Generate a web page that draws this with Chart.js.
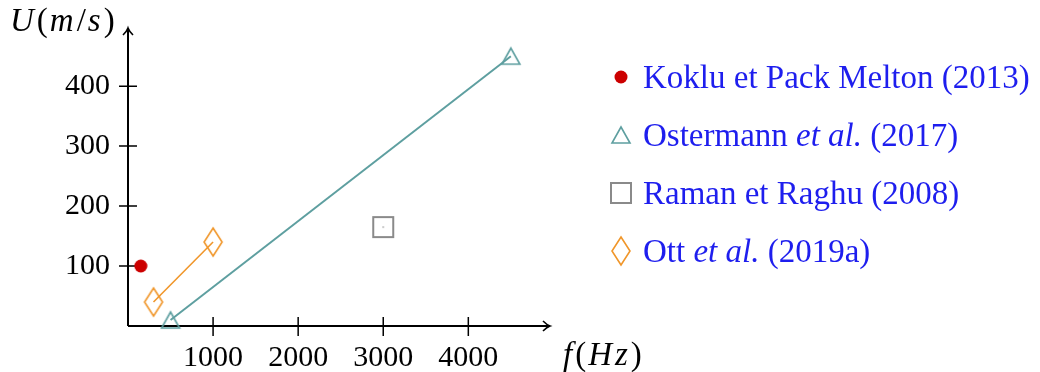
<!DOCTYPE html>
<html>
<head>
<meta charset="utf-8">
<script src="https://cdn.jsdelivr.net/npm/chart.js@4"></script>
<style>
    body { margin: 0; background: #fff; }
    #wrap { position: relative; width: 1040px; height: 372px; }
    #chart { position: absolute; left: 0; top: 0; }
    .axisLabel { position: absolute; font-family: "Liberation Serif", serif; font-size: 33px; color: #000; white-space: nowrap; line-height: 1; letter-spacing: 2px; }
    .axisLabel i { letter-spacing: 3px; }
    #legend { position: absolute; left: 604px; top: 48px; font-family: "Liberation Serif", serif; font-size: 33px; color: #1e1eee; }
    .row { height: 58px; display: flex; align-items: center; white-space: nowrap; }
</style>
</head>
<body>
<div id="wrap">
    <canvas id="chart" width="1040" height="372"></canvas>
    <div class="axisLabel" style="left:10px;top:4px;"><i>U</i>(<i>m</i>/<i>s</i>)</div>
    <div class="axisLabel" style="left:563px;top:338px;"><i>f</i>(<i>Hz</i>)</div>
    <div id="legend"></div>
</div>
<script>
// data
const kokluF = [150];
const kokluU = [100];
const ostermannF = [500, 4500];
const ostermannU = [10, 450];
const ramanF = [3000];
const ramanU = [165];
const ottF = [300, 1000];
const ottU = [40, 140];

const xTicks = [1000, 2000, 3000, 4000];
const yTicks = [100, 200, 300, 400];

const legendLabels = [
    [["Koklu et Pack Melton (2013)", false]],
    [["Ostermann ", false], ["et al.", true], [" (2017)", false]],
    [["Raman et Raghu (2008)", false]],
    [["Ott ", false], ["et al.", true], [" (2019a)", false]]
];

const RED = "#cc0000";
const TEAL = "#5e9fa0";
const GRAY = "#8a8a8a";
const ORANGE = "#f0962a";

// little canvases used as point styles
function makeMarker(w, h, draw) {
    const c = document.createElement("canvas");
    c.width = w;
    c.height = h;
    draw(c.getContext("2d"), w, h);
    return c;
}

const dot = () => makeMarker(14, 14, (g) => {
    g.fillStyle = RED;
    g.beginPath();
    g.arc(7, 7, 6.5, 0, Math.PI * 2);
    g.fill();
});

const triangle = () => makeMarker(22, 20, (g) => {
    g.strokeStyle = TEAL;
    g.lineWidth = 1.6;
    g.beginPath();
    g.moveTo(11, 2);
    g.lineTo(20, 18);
    g.lineTo(2, 18);
    g.closePath();
    g.stroke();
});

const square = (withDot) => makeMarker(24, 24, (g) => {
    g.strokeStyle = GRAY;
    g.lineWidth = 2;
    g.strokeRect(2, 2, 20, 20);
    if (withDot) {
        g.fillStyle = "#999";
        g.fillRect(11.5, 11, 1, 2);
    }
});

const diamond = () => makeMarker(22, 32, (g) => {
    g.strokeStyle = ORANGE;
    g.lineWidth = 1.6;
    g.beginPath();
    g.moveTo(11, 2);
    g.lineTo(20, 16);
    g.lineTo(11, 30);
    g.lineTo(2, 16);
    g.closePath();
    g.stroke();
});

const toPoints = (xs, ys) => xs.map((x, i) => ({ x: x, y: ys[i] }));

// axes with arrows and crossing tick marks
const axesPlugin = {
    id: "axes",
    beforeDatasetsDraw(chart) {
        const { ctx, chartArea, scales } = chart;
        const x0 = chartArea.left, y0 = chartArea.bottom;
        ctx.save();
        ctx.strokeStyle = "#000";
        ctx.lineWidth = 2;
        ctx.beginPath();
        ctx.moveTo(x0, y0);
        ctx.lineTo(chartArea.right, y0);
        ctx.moveTo(x0, y0);
        ctx.lineTo(x0, chartArea.top);
        ctx.stroke();

        ctx.lineWidth = 1.6;
        ctx.beginPath();
        // x arrow
        ctx.moveTo(chartArea.right - 7, y0 - 5);
        ctx.quadraticCurveTo(chartArea.right - 3, y0 - 1, chartArea.right, y0);
        ctx.quadraticCurveTo(chartArea.right - 3, y0 + 1, chartArea.right - 7, y0 + 5);
        // y arrow
        ctx.moveTo(x0 - 5, chartArea.top + 7);
        ctx.quadraticCurveTo(x0 - 1, chartArea.top + 3, x0, chartArea.top);
        ctx.quadraticCurveTo(x0 + 1, chartArea.top + 3, x0 + 5, chartArea.top + 7);
        ctx.stroke();

        ctx.lineWidth = 1.5;
        ctx.beginPath();
        xTicks.forEach(v => {
            const px = scales.x.getPixelForValue(v);
            ctx.moveTo(px, y0 - 9);
            ctx.lineTo(px, y0 + 10);
        });
        yTicks.forEach(v => {
            const py = scales.y.getPixelForValue(v);
            ctx.moveTo(x0 - 9, py);
            ctx.lineTo(x0 + 9, py);
        });
        ctx.stroke();
        ctx.restore();
    }
};

const tickFont = { family: "Liberation Serif", size: 30 };

new Chart(document.getElementById("chart"), {
    type: "scatter",
    data: {
        datasets: [
            {
                label: "Koklu et Pack Melton (2013)",
                data: toPoints(kokluF, kokluU),
                pointStyle: dot(),
                showLine: false,
                clip: false
            },
            {
                label: "Ostermann et al. (2017)",
                data: toPoints(ostermannF, ostermannU),
                pointStyle: triangle(),
                showLine: true,
                borderColor: TEAL,
                borderWidth: 2,
                clip: false
            },
            {
                label: "Raman et Raghu (2008)",
                data: toPoints(ramanF, ramanU),
                pointStyle: square(true),
                showLine: false,
                clip: false
            },
            {
                label: "Ott et al. (2019a)",
                data: toPoints(ottF, ottU),
                pointStyle: diamond(),
                showLine: true,
                borderColor: ORANGE,
                borderWidth: 1.6,
                clip: false
            }
        ]
    },
    options: {
        responsive: false,
        animation: false,
        layout: { padding: { top: 28, right: 490, left: 0, bottom: 0 } },
        plugins: {
            legend: { display: false },
            tooltip: { enabled: false }
        },
        scales: {
            x: {
                type: "linear",
                min: 0,
                max: 4960,
                afterBuildTicks: (axis) => { axis.ticks = xTicks.map(v => ({ value: v })); },
                afterFit: (axis) => { axis.height = 46; axis.paddingLeft = 0; axis.paddingRight = 0; },
                grid: { display: false, drawTicks: false },
                border: { display: false },
                ticks: { font: tickFont, color: "#000", padding: 14, maxRotation: 0, callback: (v) => String(v) }
            },
            y: {
                type: "linear",
                min: 0,
                max: 497,
                afterBuildTicks: (axis) => { axis.ticks = yTicks.map(v => ({ value: v })); },
                afterFit: (axis) => { axis.width = 128; axis.paddingTop = 0; axis.paddingBottom = 0; },
                grid: { display: false, drawTicks: false },
                border: { display: false },
                ticks: { font: tickFont, color: "#000", padding: 18, callback: (v) => String(v) }
            }
        }
    },
    plugins: [axesPlugin]
});

// HTML legend so "et al." can stay italic
const legendMarkers = [dot(), triangle(), square(false), diamond()];
const legendEl = document.getElementById("legend");
legendLabels.forEach((parts, i) => {
    const row = document.createElement("div");
    row.className = "row";
    const box = document.createElement("div");
    box.style.cssText = "width:34px;display:flex;justify-content:center;margin-right:5px;";
    box.appendChild(legendMarkers[i]);
    row.appendChild(box);
    const span = document.createElement("span");
    parts.forEach(([t, it]) => {
        const s = document.createElement(it ? "i" : "span");
        s.textContent = t;
        span.appendChild(s);
    });
    row.appendChild(span);
    legendEl.appendChild(row);
});
</script>
</body>
</html>
